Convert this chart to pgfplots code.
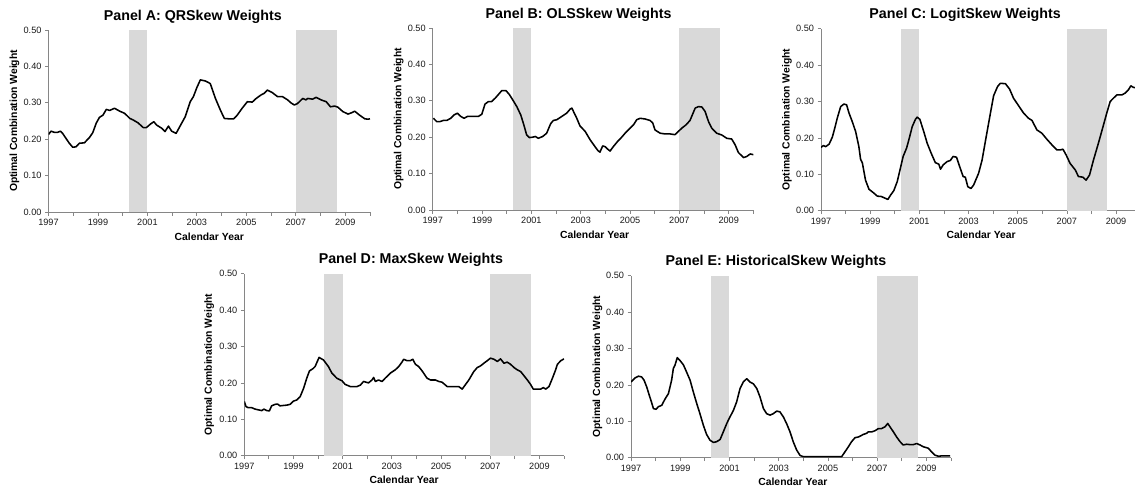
\documentclass[border=0pt]{standalone}
\usepackage{fontspec}
\setmainfont{Liberation Sans}
\usepackage{pgfplots}
\pgfplotsset{compat=1.18}
\definecolor{shade}{HTML}{D9D9D9}
\definecolor{axgray}{HTML}{868686}
\pgfplotsset{
  panel/.style={
    scale only axis, height=182bp, ymin=0, ymax=0.5, xmin=1997, xmax=2010,
    axis x line*=bottom, axis y line*=left,
    axis line style={axgray, line width=0.8bp},
    xtick={1997,1999,2001,2003,2005,2007,2009},
    minor xtick={1998,2000,2002,2004,2006,2008,2010},
    ytick={0,0.1,0.2,0.3,0.4,0.5},
    tick align=outside, major tick length=3.5bp, minor tick length=3.5bp,
    every tick/.style={axgray, line width=0.8bp},
    every minor tick/.style={axgray, line width=0.8bp},
    x tick label style={/pgf/number format/1000 sep={}},
    y tick label style={/pgf/number format/.cd, fixed, fixed zerofill, precision=2},
    /pgf/number format/assume math mode=true,
    ticklabel style={font=\fontsize{9.2}{10}\selectfont, text=black!90},
    every axis title/.style={anchor=base, font=\fontsize{14.3}{16}\selectfont\bfseries, yshift=10bp},
    every axis x label/.style={anchor=base, font=\fontsize{10.4}{12}\selectfont\bfseries, yshift=-28bp},
    every axis y label/.style={rotate=90, anchor=center, font=\fontsize{10.4}{12}\selectfont\bfseries},
    xlabel={Calendar Year}, ylabel={Optimal Combination Weight},
  },
  curve/.style={black, line width=1.55bp, line join=round},
  rec/.style={fill=shade, draw=none},
}
\begin{document}
\begin{tikzpicture}
\path[use as bounding box] (0,0) rectangle (1135bp,-487bp);

% Panel A
\begin{axis}[panel, width=321.5bp, at={(48.5bp,-212bp)}, anchor=south west,
  title={Panel A: QRSkew Weights},
  title style={at={(axis description cs:0.449,1)}},
  xlabel style={at={(axis description cs:0.5,0)}},
  ylabel style={at={(axis description cs:-0.1058,0.5)}}]
\addplot[rec] coordinates {(2000.25,0.5)(2001.0,0.5)} \closedcycle;
\addplot[rec] coordinates {(2007.0,0.5)(2008.65,0.5)} \closedcycle;
\addplot[curve] coordinates {
(1997.00,0.213)(1997.10,0.222)(1997.23,0.219)(1997.37,0.219)(1997.48,0.222)(1997.57,0.216)(1997.71,0.202)(1997.84,0.189)(1997.98,0.178)(1998.11,0.179)(1998.25,0.189)(1998.45,0.190)(1998.66,0.205)(1998.79,0.218)(1998.93,0.244)(1999.06,0.260)(1999.20,0.266)(1999.34,0.282)(1999.47,0.279)(1999.67,0.285)(1999.88,0.277)(2000.08,0.271)(2000.29,0.257)(2000.42,0.253)(2000.62,0.245)(2000.83,0.232)(2000.96,0.232)(2001.13,0.242)(2001.26,0.248)(2001.37,0.239)(2001.58,0.230)(2001.71,0.221)(2001.85,0.236)(2001.98,0.222)(2002.16,0.216)(2002.32,0.236)(2002.53,0.262)(2002.73,0.303)(2002.86,0.317)(2003.00,0.342)(2003.14,0.363)(2003.34,0.360)(2003.54,0.353)(2003.75,0.312)(2003.95,0.280)(2004.11,0.257)(2004.29,0.256)(2004.49,0.256)(2004.63,0.266)(2004.83,0.285)(2005.04,0.303)(2005.24,0.302)(2005.38,0.311)(2005.58,0.321)(2005.72,0.326)(2005.85,0.335)(2006.05,0.328)(2006.26,0.317)(2006.46,0.317)(2006.67,0.308)(2006.80,0.300)(2006.94,0.294)(2007.07,0.298)(2007.28,0.312)(2007.41,0.308)(2007.48,0.312)(2007.68,0.310)(2007.82,0.315)(2008.02,0.308)(2008.23,0.303)(2008.40,0.289)(2008.57,0.291)(2008.70,0.288)(2008.90,0.276)(2009.11,0.269)(2009.27,0.273)(2009.38,0.277)(2009.58,0.266)(2009.79,0.256)(2009.92,0.255)(2010.00,0.256)
};
\end{axis}

% Panel B
\begin{axis}[panel, width=320.7bp, at={(432.7bp,-210bp)}, anchor=south west,
  title={Panel B: OLSSkew Weights},
  title style={at={(axis description cs:0.455,1)}},
  xlabel style={at={(axis description cs:0.505,0)}},
  ylabel style={at={(axis description cs:-0.106,0.5)}}]
\addplot[rec] coordinates {(2000.25,0.5)(2001.0,0.5)} \closedcycle;
\addplot[rec] coordinates {(2007.0,0.5)(2008.65,0.5)} \closedcycle;
\addplot[curve] coordinates {
(1997.03,0.252)(1997.16,0.243)(1997.30,0.243)(1997.43,0.246)(1997.57,0.246)(1997.73,0.252)(1997.86,0.261)(1998.00,0.266)(1998.14,0.257)(1998.27,0.252)(1998.41,0.257)(1998.65,0.257)(1998.85,0.257)(1998.99,0.263)(1999.12,0.291)(1999.26,0.298)(1999.39,0.298)(1999.53,0.307)(1999.66,0.317)(1999.80,0.328)(1999.97,0.328)(2000.11,0.317)(2000.24,0.303)(2000.41,0.284)(2000.57,0.261)(2000.68,0.237)(2000.81,0.206)(2000.92,0.199)(2001.05,0.200)(2001.16,0.202)(2001.28,0.197)(2001.46,0.202)(2001.62,0.211)(2001.78,0.237)(2001.89,0.246)(2002.03,0.248)(2002.23,0.257)(2002.43,0.266)(2002.57,0.277)(2002.64,0.280)(2002.74,0.266)(2002.84,0.252)(2002.97,0.231)(2003.18,0.216)(2003.38,0.193)(2003.58,0.174)(2003.70,0.163)(2003.78,0.159)(2003.89,0.176)(2003.99,0.174)(2004.08,0.168)(2004.19,0.162)(2004.32,0.174)(2004.49,0.188)(2004.66,0.200)(2004.80,0.211)(2004.93,0.220)(2005.14,0.234)(2005.27,0.248)(2005.41,0.252)(2005.61,0.250)(2005.81,0.246)(2005.92,0.239)(2006.01,0.220)(2006.22,0.211)(2006.42,0.209)(2006.62,0.209)(2006.82,0.207)(2006.96,0.216)(2007.10,0.225)(2007.27,0.234)(2007.43,0.246)(2007.64,0.280)(2007.77,0.284)(2007.91,0.283)(2008.04,0.271)(2008.18,0.243)(2008.31,0.225)(2008.51,0.211)(2008.72,0.206)(2008.92,0.197)(2009.12,0.195)(2009.26,0.179)(2009.39,0.158)(2009.60,0.144)(2009.73,0.147)(2009.87,0.154)(2010.00,0.152)
};
\end{axis}

% Panel C
\begin{axis}[panel, width=314bp, xmax=2009.77, at={(821bp,-210.7bp)}, anchor=south west,
  title={Panel C: LogitSkew Weights},
  title style={at={(axis description cs:0.459,1)}},
  xlabel style={at={(axis description cs:0.51,0)}},
  ylabel style={at={(axis description cs:-0.1083,0.5)}}]
\addplot[rec] coordinates {(2000.25,0.5)(2001.0,0.5)} \closedcycle;
\addplot[rec] coordinates {(2007.0,0.5)(2008.65,0.5)} \closedcycle;
\addplot[curve] coordinates {
(1997.00,0.174)(1997.10,0.179)(1997.19,0.176)(1997.33,0.183)(1997.46,0.202)(1997.56,0.227)(1997.66,0.254)(1997.80,0.286)(1997.93,0.293)(1998.04,0.291)(1998.14,0.268)(1998.27,0.245)(1998.41,0.217)(1998.54,0.176)(1998.61,0.141)(1998.68,0.132)(1998.81,0.084)(1998.95,0.059)(1999.12,0.050)(1999.29,0.040)(1999.45,0.039)(1999.62,0.034)(1999.72,0.031)(1999.83,0.043)(1999.96,0.055)(2000.10,0.080)(2000.23,0.117)(2000.34,0.149)(2000.48,0.172)(2000.57,0.194)(2000.71,0.231)(2000.84,0.251)(2000.91,0.257)(2001.02,0.251)(2001.18,0.217)(2001.32,0.185)(2001.48,0.158)(2001.65,0.132)(2001.79,0.128)(2001.86,0.114)(2001.97,0.126)(2002.13,0.135)(2002.26,0.138)(2002.37,0.149)(2002.51,0.147)(2002.64,0.121)(2002.78,0.094)(2002.87,0.092)(2002.97,0.066)(2003.10,0.061)(2003.21,0.071)(2003.41,0.103)(2003.55,0.139)(2003.72,0.204)(2003.89,0.268)(2004.02,0.316)(2004.18,0.341)(2004.29,0.350)(2004.50,0.349)(2004.67,0.334)(2004.83,0.309)(2005.04,0.288)(2005.24,0.268)(2005.44,0.254)(2005.58,0.248)(2005.78,0.222)(2005.98,0.213)(2006.19,0.196)(2006.39,0.181)(2006.59,0.167)(2006.73,0.167)(2006.84,0.169)(2006.97,0.153)(2007.13,0.130)(2007.34,0.112)(2007.47,0.094)(2007.65,0.092)(2007.78,0.084)(2007.92,0.098)(2008.08,0.139)(2008.28,0.185)(2008.49,0.236)(2008.62,0.268)(2008.76,0.300)(2008.89,0.309)(2009.03,0.318)(2009.23,0.318)(2009.37,0.323)(2009.50,0.332)(2009.60,0.343)(2009.70,0.339)(2009.84,0.337)
};
\end{axis}

% Panel D
\begin{axis}[panel, width=319.7bp, at={(244.3bp,-455.7bp)}, anchor=south west,
  title={Panel D: MaxSkew Weights},
  title style={at={(axis description cs:0.521,1)}},
  xlabel style={at={(axis description cs:0.5,0)}},
  ylabel style={at={(axis description cs:-0.1095,0.5)}}]
\addplot[rec] coordinates {(2000.25,0.5)(2001.0,0.5)} \closedcycle;
\addplot[rec] coordinates {(2007.0,0.5)(2008.65,0.5)} \closedcycle;
\addplot[curve] coordinates {
(1997.00,0.149)(1997.07,0.135)(1997.16,0.132)(1997.30,0.132)(1997.44,0.128)(1997.57,0.126)(1997.71,0.124)(1997.80,0.128)(1997.91,0.124)(1998.02,0.123)(1998.11,0.137)(1998.25,0.141)(1998.35,0.142)(1998.45,0.137)(1998.59,0.138)(1998.73,0.139)(1998.86,0.141)(1999.00,0.150)(1999.13,0.153)(1999.27,0.162)(1999.41,0.185)(1999.54,0.213)(1999.65,0.233)(1999.79,0.239)(1999.88,0.245)(2000.04,0.270)(2000.22,0.263)(2000.42,0.245)(2000.56,0.227)(2000.76,0.213)(2000.97,0.206)(2001.10,0.196)(2001.31,0.190)(2001.58,0.190)(2001.72,0.194)(2001.85,0.204)(2002.05,0.200)(2002.19,0.208)(2002.26,0.215)(2002.33,0.204)(2002.46,0.208)(2002.60,0.204)(2002.73,0.213)(2002.94,0.227)(2003.14,0.236)(2003.28,0.245)(2003.41,0.257)(2003.48,0.265)(2003.62,0.261)(2003.75,0.261)(2003.85,0.265)(2003.96,0.251)(2004.09,0.245)(2004.23,0.233)(2004.43,0.213)(2004.57,0.208)(2004.77,0.208)(2004.91,0.204)(2005.04,0.202)(2005.25,0.190)(2005.38,0.190)(2005.59,0.190)(2005.72,0.190)(2005.86,0.183)(2006.00,0.196)(2006.13,0.208)(2006.33,0.231)(2006.47,0.242)(2006.61,0.247)(2006.74,0.254)(2006.88,0.261)(2007.01,0.268)(2007.15,0.265)(2007.29,0.259)(2007.42,0.266)(2007.56,0.254)(2007.69,0.257)(2007.83,0.251)(2007.97,0.242)(2008.10,0.236)(2008.24,0.231)(2008.37,0.220)(2008.51,0.208)(2008.64,0.196)(2008.75,0.183)(2008.92,0.183)(2009.05,0.183)(2009.16,0.187)(2009.26,0.183)(2009.39,0.190)(2009.53,0.213)(2009.66,0.236)(2009.73,0.251)(2009.87,0.261)(2010.00,0.266)
};
\end{axis}

% Panel E
\begin{axis}[panel, width=320bp, at={(631bp,-457.7bp)}, anchor=south west,
  title={Panel E: HistoricalSkew Weights},
  title style={at={(axis description cs:0.453,1)}},
  xlabel style={at={(axis description cs:0.506,0)}},
  ylabel style={at={(axis description cs:-0.1047,0.5)}}]
\addplot[rec] coordinates {(2000.25,0.5)(2001.0,0.5)} \closedcycle;
\addplot[rec] coordinates {(2007.0,0.5)(2008.65,0.5)} \closedcycle;
\addplot[curve] coordinates {
(1997.00,0.208)(1997.16,0.219)(1997.30,0.224)(1997.43,0.222)(1997.53,0.213)(1997.64,0.194)(1997.75,0.170)(1997.84,0.151)(1997.91,0.135)(1998.02,0.133)(1998.11,0.140)(1998.25,0.144)(1998.38,0.161)(1998.52,0.176)(1998.65,0.213)(1998.72,0.245)(1998.79,0.255)(1998.88,0.275)(1998.99,0.267)(1999.13,0.255)(1999.26,0.235)(1999.40,0.213)(1999.53,0.181)(1999.67,0.149)(1999.80,0.121)(1999.94,0.089)(2000.07,0.064)(2000.21,0.048)(2000.35,0.042)(2000.48,0.044)(2000.62,0.050)(2000.75,0.071)(2000.89,0.094)(2001.02,0.112)(2001.16,0.130)(2001.29,0.153)(2001.43,0.190)(2001.56,0.208)(2001.70,0.217)(2001.83,0.208)(2001.97,0.203)(2002.11,0.190)(2002.24,0.167)(2002.38,0.135)(2002.51,0.121)(2002.65,0.117)(2002.78,0.121)(2002.92,0.128)(2003.05,0.126)(2003.19,0.112)(2003.32,0.094)(2003.46,0.071)(2003.59,0.044)(2003.73,0.021)(2003.87,0.006)(2004.00,0.003)(2004.14,0.003)(2005.56,0.003)(2005.69,0.016)(2005.83,0.030)(2005.96,0.044)(2006.10,0.055)(2006.24,0.057)(2006.44,0.064)(2006.57,0.067)(2006.64,0.071)(2006.78,0.071)(2006.91,0.074)(2007.05,0.080)(2007.18,0.080)(2007.32,0.085)(2007.43,0.094)(2007.52,0.085)(2007.66,0.071)(2007.79,0.057)(2007.93,0.044)(2008.06,0.035)(2008.20,0.037)(2008.33,0.036)(2008.47,0.036)(2008.61,0.039)(2008.74,0.035)(2008.88,0.030)(2009.08,0.026)(2009.21,0.016)(2009.35,0.007)(2009.49,0.004)(2009.62,0.005)(2009.76,0.005)(2009.96,0.005)
};
\end{axis}
\end{tikzpicture}
\end{document}
